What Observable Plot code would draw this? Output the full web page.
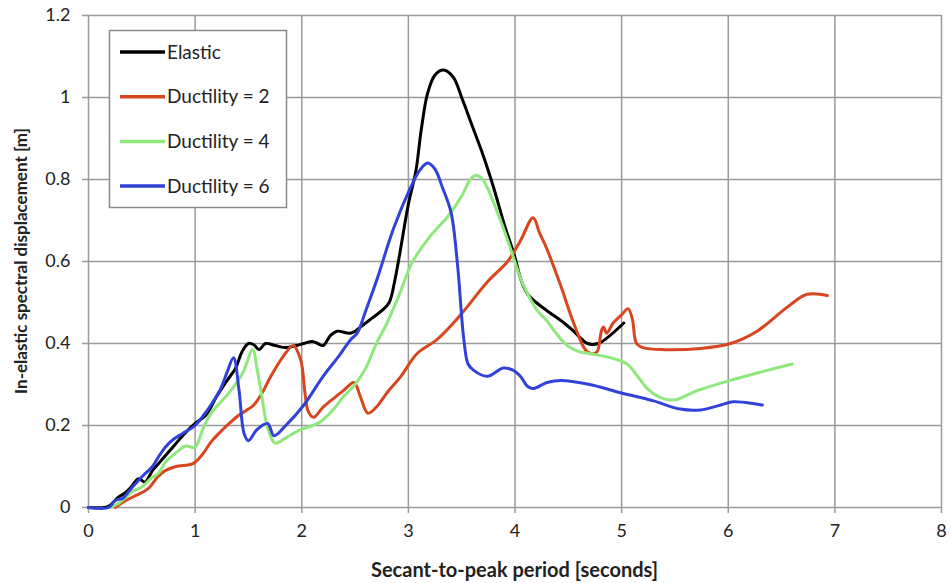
<!DOCTYPE html>
<html>
<head>
<meta charset="utf-8">
<script src="https://cdn.jsdelivr.net/npm/d3@7"></script>
<script src="https://cdn.jsdelivr.net/npm/@observablehq/plot@0.6"></script>
<style>
  html, body { margin: 0; padding: 0; background: #fff; }
  #chart { position: relative; width: 951px; height: 583px; }
</style>
</head>
<body>
<div id="chart"></div>
<script>
const seriesNames = ["Elastic", "Ductility = 2", "Ductility = 4", "Ductility = 6"];
const seriesColors = ["#000000", "#d8461f", "#8fe87c", "#3142d8"];
const xTicks = [0, 1, 2, 3, 4, 5, 6, 7, 8];
const yTicks = [0, 0.2, 0.4, 0.6, 0.8, 1, 1.2];

const elastic = [[0,0],[0.15,0],[0.2,0.005],[0.28,0.025],[0.34,0.035],[0.4,0.05],[0.47,0.07],[0.53,0.062],[0.6,0.09],[0.7,0.12],[0.8,0.15],[0.9,0.18],[1.0,0.205],[1.1,0.225],[1.2,0.27],[1.3,0.31],[1.38,0.34],[1.44,0.38],[1.5,0.40],[1.55,0.397],[1.6,0.385],[1.66,0.40],[1.75,0.395],[1.85,0.39],[1.95,0.395],[2.02,0.40],[2.1,0.405],[2.15,0.40],[2.2,0.395],[2.27,0.42],[2.33,0.43],[2.45,0.425],[2.5,0.43],[2.55,0.44],[2.65,0.46],[2.75,0.48],[2.82,0.50],[2.87,0.55],[2.92,0.62],[3.0,0.74],[3.07,0.82],[3.12,0.92],[3.18,1.01],[3.25,1.055],[3.33,1.067],[3.42,1.05],[3.5,1.0],[3.6,0.93],[3.7,0.86],[3.8,0.78],[3.9,0.69],[4.0,0.61],[4.05,0.56],[4.12,0.52],[4.2,0.50],[4.3,0.48],[4.46,0.45],[4.55,0.43],[4.68,0.40],[4.78,0.40],[4.87,0.415],[5.02,0.45]];

const ductility2 = [[0.25,0],[0.35,0.017],[0.45,0.03],[0.56,0.046],[0.65,0.075],[0.72,0.09],[0.82,0.10],[0.98,0.107],[1.07,0.13],[1.15,0.16],[1.22,0.18],[1.32,0.205],[1.41,0.225],[1.5,0.24],[1.55,0.25],[1.63,0.28],[1.71,0.32],[1.83,0.37],[1.92,0.395],[1.99,0.36],[2.03,0.28],[2.06,0.235],[2.11,0.22],[2.2,0.245],[2.27,0.26],[2.39,0.285],[2.49,0.305],[2.55,0.27],[2.62,0.23],[2.7,0.245],[2.8,0.28],[2.93,0.32],[3.08,0.375],[3.27,0.41],[3.49,0.47],[3.74,0.55],[3.93,0.60],[4.05,0.65],[4.17,0.707],[4.23,0.67],[4.3,0.63],[4.43,0.54],[4.55,0.45],[4.66,0.385],[4.72,0.375],[4.77,0.38],[4.81,0.43],[4.83,0.44],[4.86,0.425],[4.92,0.45],[5.0,0.47],[5.06,0.485],[5.1,0.46],[5.14,0.40],[5.2,0.39],[5.4,0.385],[5.74,0.388],[6.02,0.40],[6.27,0.43],[6.56,0.49],[6.74,0.52],[6.93,0.517]];

const ductility4 = [[0.2,0],[0.28,0.01],[0.35,0.025],[0.42,0.04],[0.5,0.05],[0.58,0.07],[0.66,0.085],[0.72,0.11],[0.79,0.127],[0.85,0.14],[0.91,0.15],[1.0,0.147],[1.07,0.19],[1.15,0.23],[1.25,0.26],[1.35,0.29],[1.45,0.33],[1.54,0.385],[1.58,0.34],[1.62,0.28],[1.68,0.195],[1.75,0.157],[1.85,0.17],[1.99,0.19],[2.1,0.2],[2.18,0.21],[2.3,0.24],[2.39,0.27],[2.5,0.30],[2.6,0.34],[2.7,0.40],[2.8,0.45],[2.9,0.51],[3.04,0.60],[3.2,0.66],[3.37,0.71],[3.5,0.76],[3.58,0.80],[3.63,0.81],[3.68,0.805],[3.74,0.78],[3.85,0.71],[3.96,0.63],[4.05,0.56],[4.12,0.52],[4.21,0.48],[4.3,0.455],[4.4,0.42],[4.49,0.395],[4.6,0.38],[4.71,0.375],[4.9,0.365],[5.05,0.35],[5.15,0.32],[5.24,0.29],[5.35,0.27],[5.49,0.262],[5.6,0.272],[5.71,0.285],[6.02,0.31],[6.3,0.33],[6.6,0.35]];

const ductility6 = [[0,0],[0.19,0],[0.24,0.015],[0.28,0.02],[0.32,0.022],[0.38,0.04],[0.44,0.058],[0.52,0.08],[0.6,0.10],[0.66,0.125],[0.72,0.147],[0.8,0.167],[0.88,0.18],[1.0,0.2],[1.08,0.225],[1.16,0.255],[1.24,0.29],[1.3,0.33],[1.36,0.365],[1.41,0.29],[1.46,0.18],[1.5,0.163],[1.58,0.19],[1.68,0.205],[1.74,0.175],[1.85,0.2],[2.02,0.25],[2.2,0.32],[2.35,0.37],[2.46,0.41],[2.52,0.425],[2.6,0.48],[2.71,0.56],[2.86,0.68],[3.02,0.78],[3.1,0.82],[3.18,0.84],[3.25,0.825],[3.32,0.78],[3.4,0.72],[3.46,0.595],[3.52,0.41],[3.56,0.35],[3.61,0.335],[3.74,0.32],[3.89,0.34],[3.98,0.335],[4.05,0.32],[4.12,0.295],[4.17,0.29],[4.3,0.305],[4.43,0.31],[4.7,0.3],[4.99,0.28],[5.3,0.26],[5.55,0.24],[5.74,0.238],[5.93,0.25],[6.05,0.258],[6.32,0.25]];

const allSeries = [elastic, ductility2, ductility4, ductility6];
const rows = allSeries.flatMap((pts, i) => pts.map(([t, v]) => ({series: seriesNames[i], t, v})));

const FONT = "Lato, 'Open Sans', 'DejaVu Sans', sans-serif";
const ML = 88, MR = 10, MT = 15, MB = 76, W = 951, H = 583;

const chart = Plot.plot({
  width: W, height: H,
  marginLeft: ML, marginRight: MR, marginTop: MT, marginBottom: MB,
  style: {fontFamily: FONT, fontSize: "18px", background: "#fff", color: "#222"},
  x: {domain: [0, 8]},
  y: {domain: [0, 1.2]},
  color: {domain: seriesNames, range: seriesColors},
  marks: [
    Plot.gridX(xTicks, {stroke: "#9a9a9a", strokeOpacity: 1, strokeWidth: 1.5}),
    Plot.gridY(yTicks, {stroke: "#9a9a9a", strokeOpacity: 1, strokeWidth: 1.5}),
    Plot.axisX(xTicks, {tickSize: 6, tickPadding: 11, stroke: "#9a9a9a", strokeWidth: 1.5, fill: "#222", label: null, tickFormat: d => String(d), fontSize: 18}),
    Plot.axisY(yTicks, {tickSize: 6, tickPadding: 12, stroke: "#9a9a9a", strokeWidth: 1.5, fill: "#222", label: null, tickFormat: d => String(d), fontSize: 18}),
    Plot.line(rows, {x: "t", y: "v", z: "series", stroke: "series", strokeWidth: 3, curve: "catmull-rom", strokeLinejoin: "round", strokeLinecap: "round"})
  ]
});

document.getElementById("chart").appendChild(chart);

const svg = d3.select(chart);
// Axis titles
svg.append("text")
  .attr("x", (ML + (W - MR)) / 2).attr("y", 577)
  .attr("text-anchor", "middle")
  .attr("font-family", FONT).attr("font-size", 20).attr("font-weight", "bold").attr("fill", "#222")
  .text("Secant-to-peak period [seconds]");
svg.append("text")
  .attr("transform", `translate(27, ${(MT + (H - MB)) / 2}) rotate(-90)`)
  .attr("text-anchor", "middle")
  .attr("font-family", FONT).attr("font-size", 17).attr("font-weight", "bold").attr("fill", "#222")
  .text("In-elastic spectral displacement [m]");

// Legend
const lg = svg.append("g");
lg.append("rect").attr("x", 109.5).attr("y", 30.5).attr("width", 177).attr("height", 177)
  .attr("fill", "#fff").attr("stroke", "#8a8a8a").attr("stroke-width", 1.5);
seriesNames.forEach((name, i) => {
  const y = 52 + i * 44.7;
  lg.append("line").attr("x1", 120).attr("x2", 165).attr("y1", y).attr("y2", y)
    .attr("stroke", seriesColors[i]).attr("stroke-width", 3.5);
  lg.append("text").attr("x", 167).attr("y", y).attr("dy", "0.35em")
    .attr("text-anchor", "start")
    .attr("font-family", FONT).attr("font-size", 19).attr("fill", "#222")
    .text(name);
});
</script>
</body>
</html>
